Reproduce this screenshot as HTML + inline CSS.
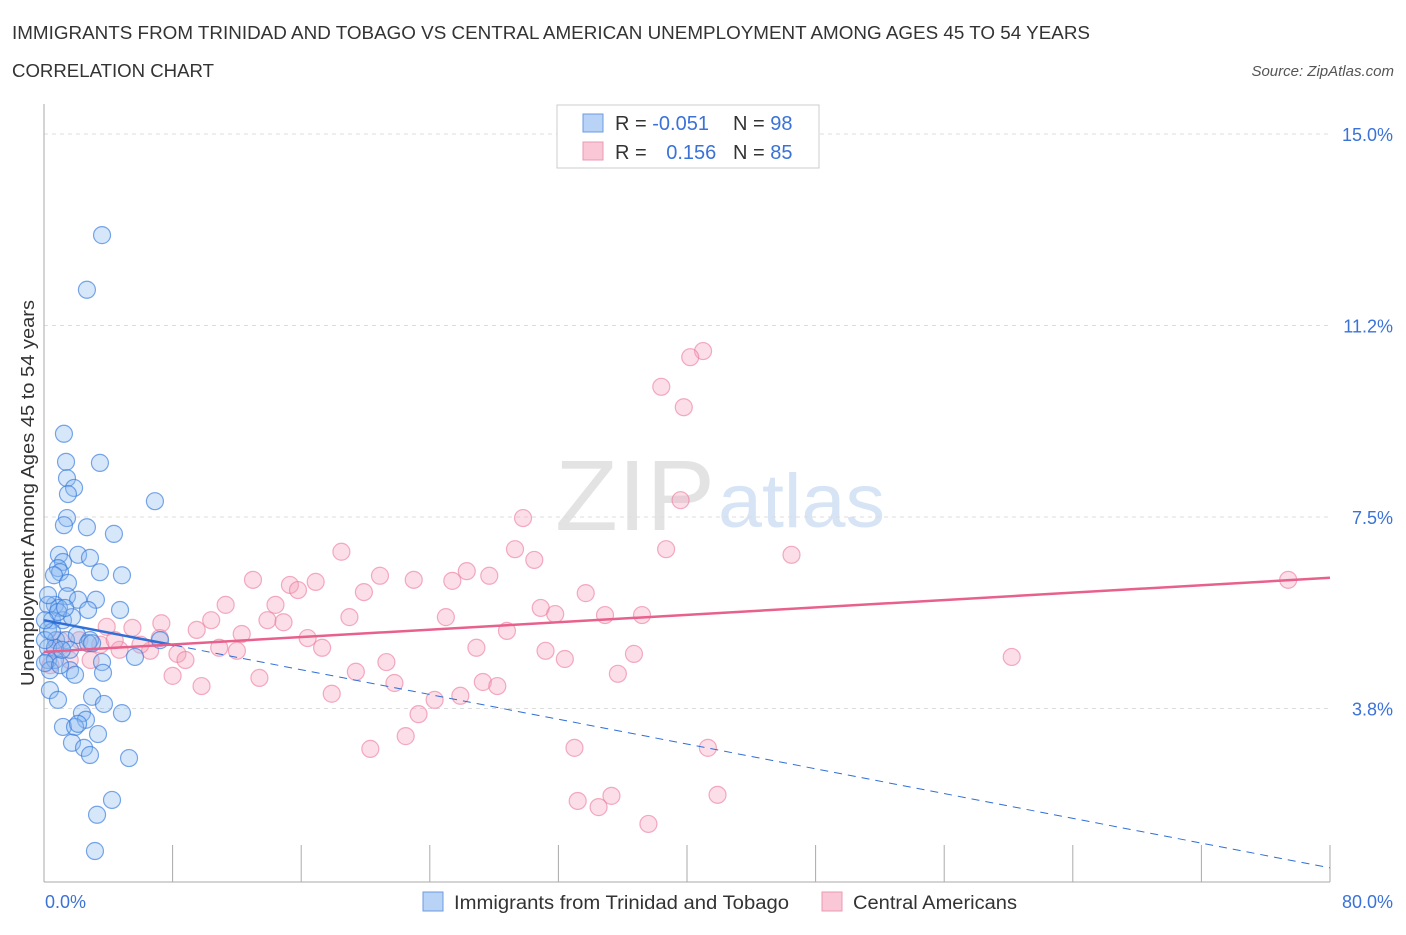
<!DOCTYPE html>
<html><head><meta charset="utf-8">
<style>
body{margin:0;background:#fff;font-family:"Liberation Sans",sans-serif;}
svg text{font-family:"Liberation Sans",sans-serif;}
</style></head>
<body>
<svg id="chart" width="1406" height="930">
<text x="12" y="39" font-size="18" fill="#333" textLength="1078" lengthAdjust="spacingAndGlyphs">IMMIGRANTS FROM TRINIDAD AND TOBAGO VS CENTRAL AMERICAN UNEMPLOYMENT AMONG AGES 45 TO 54 YEARS</text>
<text x="12" y="77" font-size="18" fill="#333" textLength="202" lengthAdjust="spacingAndGlyphs">CORRELATION CHART</text>
<text x="1394" y="76" font-size="15" fill="#555" font-style="italic" text-anchor="end">Source: ZipAtlas.com</text>
<text x="555" y="530" font-size="100" fill="#e3e3e3" textLength="160" lengthAdjust="spacingAndGlyphs" font-family="Liberation Serif">ZIP</text>
<text x="718" y="527" font-size="76" fill="#d6e4f5" textLength="167" lengthAdjust="spacingAndGlyphs">atlas</text>
<g id="grid"></g><g id="axes"></g><g id="pts"></g><g id="lines"></g>
<text transform="translate(34,493) rotate(-90)" font-size="18" fill="#333" text-anchor="middle" textLength="386" lengthAdjust="spacingAndGlyphs">Unemployment Among Ages 45 to 54 years</text>
<text x="45" y="908" font-size="18" fill="#3a72d8">0.0%</text>
<text x="1393" y="908" font-size="18" fill="#3a72d8" text-anchor="end">80.0%</text>
<g>
<rect x="557" y="105" width="262" height="63" fill="#fff" stroke="#ccc"/>
<rect x="583" y="114" width="20" height="18" fill="#b8d3f5" stroke="#6a9be0"/>
<rect x="583" y="142" width="20" height="18" fill="#f9c7d5" stroke="#eb9ab3"/>
<text x="615" y="130" font-size="20" fill="#333">R = <tspan fill="#3a72d8">-0.051</tspan></text>
<text x="733" y="130" font-size="20" fill="#333">N = <tspan fill="#3a72d8">98</tspan></text>
<text x="615" y="159" font-size="20" fill="#333">R = <tspan fill="#3a72d8" dx="14">0.156</tspan></text>
<text x="733" y="159" font-size="20" fill="#333">N = <tspan fill="#3a72d8">85</tspan></text>
</g>
<g>
<rect x="423" y="892" width="20" height="19" fill="#b8d3f5" stroke="#6a9be0"/>
<text x="454" y="909" font-size="19" fill="#333" textLength="335" lengthAdjust="spacingAndGlyphs">Immigrants from Trinidad and Tobago</text>
<rect x="822" y="892" width="20" height="19" fill="#f9c7d5" stroke="#eb9ab3"/>
<text x="853" y="909" font-size="19" fill="#333" textLength="164" lengthAdjust="spacingAndGlyphs">Central Americans</text>
</g>
</svg>
<script>
const yTicks=[3.8,7.5,11.2,15.0];
const yTickVals=[3.75,7.5,11.25,15];
const blueX=[3.61,2.67,1.24,1.37,3.48,1.43,1.87,1.49,6.9,1.43,1.24,2.67,4.35,0.93,1.18,2.12,2.86,0.87,1.0,4.85,3.48,0.62,1.49,1.43,2.12,3.23,0.68,0.93,4.73,2.74,0.25,0.5,1.18,1.74,0.25,0.75,1.37,2.05,2.86,0.25,0.68,1.62,2.74,2.99,7.22,0.25,0.68,3.61,5.66,1.62,1.93,3.67,0.37,0.87,2.99,3.73,4.85,2.36,2.61,1.18,1.93,2.12,3.36,1.74,2.49,2.86,5.29,4.23,3.3,3.17,0.37,0.06,1.0,0.06,0.5,0.87,1.31,0.25,0.06,1.12];
const blueY=[13.02,11.95,9.13,8.58,8.56,8.26,8.07,7.95,7.81,7.48,7.34,7.3,7.17,6.76,6.62,6.76,6.7,6.5,6.42,6.36,6.42,6.36,6.21,5.95,5.88,5.88,5.78,5.72,5.68,5.68,5.78,5.48,5.48,5.54,5.29,5.09,5.09,5.19,5.09,4.94,4.94,4.9,5.03,5.03,5.09,4.7,4.7,4.66,4.76,4.5,4.41,4.45,4.11,3.92,3.98,3.84,3.66,3.66,3.53,3.39,3.39,3.45,3.25,3.08,2.98,2.84,2.78,1.96,1.67,0.96,4.5,4.64,4.6,5.09,5.25,5.64,5.72,5.97,5.48,4.9];
const pinkX=[41.0,40.2,38.4,39.8,39.6,29.8,29.3,38.7,46.5,30.5,18.5,13.0,15.3,15.8,16.9,20.9,23.0,25.4,26.3,27.7,19.9,33.7,30.9,31.8,34.9,37.2,25.0,19.0,14.4,11.3,10.4,13.9,14.9,7.3,9.5,5.5,3.9,12.3,16.4,17.3,26.9,28.8,31.2,32.4,36.7,10.9,12.0,6.6,4.7,2.2,1.0,1.6,2.9,8.3,8.8,8.0,13.4,9.8,19.4,21.3,21.8,27.3,28.2,35.7,25.9,24.3,17.9,23.3,22.5,20.3,33.0,41.3,41.9,33.2,35.3,34.5,37.6,60.2,77.4,0.4,0.7,3.5,6.0,7.2,4.4];
const pinkY=[10.75,10.63,10.05,9.65,7.83,7.48,6.87,6.87,6.76,6.66,6.82,6.27,6.17,6.07,6.23,6.35,6.27,6.25,6.44,6.35,6.03,6.01,5.72,5.6,5.58,5.58,5.54,5.54,5.78,5.78,5.48,5.48,5.44,5.42,5.29,5.33,5.35,5.21,5.13,4.94,4.94,5.27,4.88,4.72,4.82,4.94,4.88,4.88,4.9,5.09,5.09,4.7,4.7,4.82,4.7,4.39,4.35,4.19,4.47,4.66,4.25,4.27,4.19,4.43,4.0,3.92,4.04,3.64,3.21,2.96,2.98,2.98,2.06,1.94,2.04,1.82,1.49,4.76,6.27,4.6,4.9,5.0,5.0,5.13,5.09];
const blueTrend=[5.48,0.63];
const pinkTrend=[4.86,6.31];
const blueSolidEnd=8.1;
const X=v=>44+v*(1286/80);
const Y=v=>134+(15-v)*51.07;
const NS='http://www.w3.org/2000/svg';
function mk(tag,attrs,parent){const e=document.createElementNS(NS,tag);for(const k in attrs)e.setAttribute(k,attrs[k]);parent.appendChild(e);return e;}
const grid=document.getElementById('grid'),axes=document.getElementById('axes'),pts=document.getElementById('pts'),lines=document.getElementById('lines');
yTickVals.forEach((v,i)=>{
 const l=mk('line',{x1:44,x2:1330,y1:Y(v),y2:Y(v),stroke:'#ddd','stroke-dasharray':'4,4'},grid);
 
 
 const t=mk('text',{x:1393,y:Y(v)+7,'font-size':18,fill:'#3a72d8','text-anchor':'end'},grid);
 t.textContent=yTicks[i].toFixed(1)+'%';
 
 
});
const ax=mk('line',{x1:44,x2:44,y1:104,y2:882,stroke:'#aaa'},axes);


const bx=mk('line',{x1:44,x2:1330,y1:882,y2:882,stroke:'#aaa'},axes);


for(let v=0;v<=80;v+=8){
 const t=mk('line',{x1:X(v),x2:X(v),y1:845,y2:882,stroke:'#aaa'},axes);
 
 
}
pinkX.forEach((x,i)=>{
 const c=mk('circle',{cx:X(x),cy:Y(pinkY[i]),r:8.5,fill:'rgba(244,160,185,0.35)',stroke:'rgba(236,120,155,0.6)','stroke-width':1.2},pts);
 
 
});
blueX.forEach((x,i)=>{
 const c=mk('circle',{cx:X(x),cy:Y(blueY[i]),r:8.5,fill:'rgba(140,185,240,0.35)',stroke:'rgba(50,120,220,0.65)','stroke-width':1.2},pts);
 
 
});
const bAt=x=>blueTrend[0]+(blueTrend[1]-blueTrend[0])*x/80;
const bs=mk('line',{x1:X(0),y1:Y(bAt(0)),x2:X(blueSolidEnd),y2:Y(bAt(blueSolidEnd)),stroke:'#2f6fd6','stroke-width':2.5},lines);


const bd=mk('line',{x1:X(blueSolidEnd),y1:Y(bAt(blueSolidEnd)),x2:X(80),y2:Y(bAt(80)),stroke:'#2f6fd6','stroke-width':1,'stroke-dasharray':'8,6'},lines);


const pl=mk('line',{x1:X(0),y1:Y(pinkTrend[0]),x2:X(80),y2:Y(pinkTrend[1]),stroke:'#e8608c','stroke-width':2.5},lines);


</script>
</body></html>
